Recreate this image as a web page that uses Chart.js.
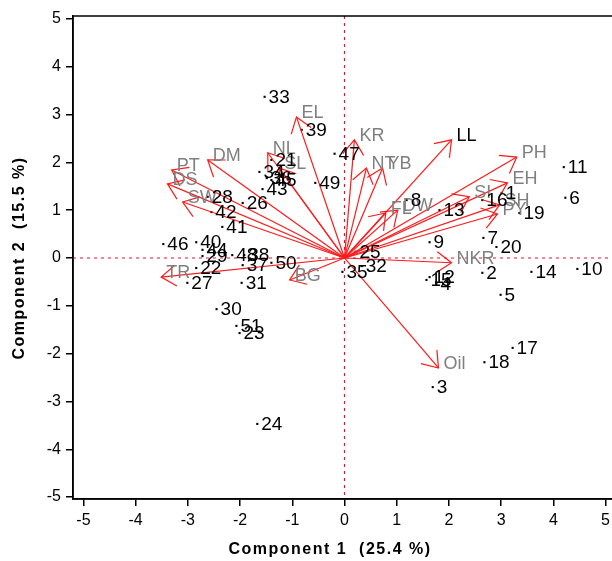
<!DOCTYPE html>
<html>
<head>
<meta charset="utf-8">
<script src="https://cdn.jsdelivr.net/npm/chart.js@4.4.0/dist/chart.umd.min.js"></script>
<style>
  html, body { margin: 0; padding: 0; background: #fff; overflow: hidden; }
</style>
</head>
<body>
<canvas id="biplot" width="640" height="561"></canvas>
<script>
// Genotype scores (PC1, PC2)
const pointIds = ['1','2','3','4','5','6','7','8','9','10','11','12','13','14','15','16','17','18','19','20',
  '21','22','23','24','25','26','27','28','29','30','31','32','33','34','35','36','37','38','39','40',
  '41','42','43','44','45','46','47','48','49','50','51'];
const pointX = [3.01, 2.64, 1.69, 1.76, 2.99, 4.23, 2.66, 1.19, 1.63, 4.46, 4.20, 1.63, 1.82, 3.58, 1.57, 2.64, 3.22, 2.68, 3.35, 2.91,
  -1.40, -2.84, -2.01, -1.67, 0.21, -1.95, -3.01, -2.62, -2.72, -2.45, -1.97, 0.33, -1.53, -1.63, -0.04, -1.49, -1.95, -1.92, -0.82, -2.84,
  -2.34, -2.55, -1.57, -2.72, -1.40, -3.47, -0.19, -2.15, -0.56, -1.40, -2.07];
const pointY = [1.36, -0.31, -2.70, -0.54, -0.77, 1.26, 0.42, 1.21, 0.33, -0.23, 1.90, -0.40, 1.00, -0.29, -0.46, 1.21, -1.88, -2.18, 0.94, 0.23,
  2.05, -0.21, -1.57, -3.47, 0.13, 1.15, -0.52, 1.28, 0.04, -1.07, -0.52, -0.17, 3.37, 1.80, -0.29, 1.67, -0.15, 0.06, 2.68, 0.33,
  0.65, 0.96, 1.44, 0.17, 1.63, 0.29, 2.18, 0.06, 1.57, -0.10, -1.42];

// Trait loadings (arrow tips)
const varNames = ['EL','KR','NT','YB','LL','PH','EH','SI','SH','PY','FL','DW','NKR','Oil','BG','TR','SW','DS','PT','DM','NL','SL'];
const varX = [-0.92, 0.19, 0.42, 0.73, 2.05, 3.30, 3.12, 2.39, 2.97, 2.93, 0.79, 1.02, 2.05, 1.80, -1.05, -3.51, -3.10, -3.39, -3.31, -2.62, -1.47, -1.25];
const varY = [2.95, 2.47, 1.88, 1.88, 2.47, 2.11, 1.57, 1.28, 1.11, 0.92, 0.94, 1.00, -0.10, -2.30, -0.46, -0.40, 1.17, 1.55, 1.84, 2.05, 2.20, 1.88];
const varColors = varNames.map(n => n === 'LL' ? '#000000' : '#7f7f7f');

const xTitle = 'Component 1  (25.4 %)';
const yTitle = 'Component 2  (15.5 %)';
const FONT = "Arial, 'Liberation Sans', sans-serif";

const datasets = [];
varNames.forEach((name, i) => {
  datasets.push({
    label: name,
    data: [{ x: 0, y: 0 }, { x: varX[i], y: varY[i] }],
    showLine: true,
    borderColor: '#ff1a1a',
    borderWidth: 1.2,
    pointRadius: 0,
    pointHoverRadius: 0
  });
});
datasets.push({
  label: 'genotypes',
  data: pointIds.map((id, i) => ({ x: pointX[i], y: pointY[i] })),
  pointStyle: 'rect',
  pointRadius: 1.5,
  backgroundColor: '#000',
  borderWidth: 0
});

const biplotPlugin = {
  id: 'biplot',
  beforeDatasetsDraw(chart) {
    const { ctx, chartArea: a, scales: { x, y } } = chart;
    ctx.save();
    ctx.strokeStyle = '#e8102a';
    ctx.lineWidth = 1.2;
    ctx.setLineDash([3, 4]);
    ctx.beginPath();
    ctx.moveTo(a.left, y.getPixelForValue(0));
    ctx.lineTo(a.right, y.getPixelForValue(0));
    ctx.moveTo(x.getPixelForValue(0), a.top);
    ctx.lineTo(x.getPixelForValue(0), a.bottom);
    ctx.stroke();
    ctx.restore();
  },
  afterDatasetsDraw(chart) {
    const { ctx, chartArea: a, scales: { x, y } } = chart;
    ctx.save();
    // arrow heads
    ctx.strokeStyle = '#ff1a1a';
    ctx.lineWidth = 1.2;
    const x0 = x.getPixelForValue(0), y0 = y.getPixelForValue(0);
    varNames.forEach((name, i) => {
      const tx = x.getPixelForValue(varX[i]), ty = y.getPixelForValue(varY[i]);
      const ang = Math.atan2(ty - y0, tx - x0);
      const len = 18, spread = 0.62;
      ctx.beginPath();
      ctx.moveTo(tx - len * Math.cos(ang - spread), ty - len * Math.sin(ang - spread));
      ctx.lineTo(tx, ty);
      ctx.lineTo(tx - len * Math.cos(ang + spread), ty - len * Math.sin(ang + spread));
      ctx.stroke();
    });
    // trait labels
    ctx.font = '18px ' + FONT;
    ctx.textBaseline = 'middle';
    ctx.textAlign = 'left';
    varNames.forEach((name, i) => {
      ctx.fillStyle = varColors[i];
      ctx.fillText(name, x.getPixelForValue(varX[i]) + 5, y.getPixelForValue(varY[i]) - 4);
    });
    // genotype labels
    ctx.font = '19px ' + FONT;
    ctx.fillStyle = '#000';
    pointIds.forEach((id, i) => {
      ctx.fillText(id, x.getPixelForValue(pointX[i]) + 4, y.getPixelForValue(pointY[i]) + 1);
    });
    // frame
    ctx.strokeStyle = '#000';
    ctx.lineWidth = 1.5;
    ctx.setLineDash([]);
    ctx.strokeRect(a.left, a.top, a.right - a.left, a.bottom - a.top);
    // axis titles
    ctx.font = 'bold 16px ' + FONT;
    ctx.letterSpacing = '1.5px';
    ctx.textAlign = 'center';
    ctx.fillText(xTitle, 330, 550);
    ctx.translate(20, 258);
    ctx.rotate(-Math.PI / 2);
    ctx.fillText(yTitle, 0, 0);
    ctx.restore();
  }
};

new Chart(document.getElementById('biplot'), {
  type: 'scatter',
  data: { datasets },
  options: {
    responsive: false,
    animation: false,
    layout: { padding: { top: 16, right: 24, left: 0, bottom: 0 } },
    plugins: { legend: { display: false }, tooltip: { enabled: false } },
    scales: {
      x: {
        type: 'linear',
        min: -5.2,
        max: 5.2,
        ticks: { stepSize: 1, includeBounds: false, color: '#000', padding: 5, font: { size: 16, family: FONT } },
        grid: { drawOnChartArea: false, drawTicks: true, tickLength: 7, color: '#000', lineWidth: 1.5 },
        border: { display: true, color: '#000', width: 1.5 },
        afterFit(scale) { scale.height = 62; }
      },
      y: {
        type: 'linear',
        min: -5.04,
        max: 5.06,
        ticks: { stepSize: 1, includeBounds: false, color: '#000', padding: 5, font: { size: 16, family: FONT } },
        grid: { drawOnChartArea: false, drawTicks: true, tickLength: 7, color: '#000', lineWidth: 1.5 },
        border: { display: true, color: '#000', width: 1.5 },
        afterFit(scale) { scale.width = 73; }
      }
    }
  },
  plugins: [biplotPlugin]
});
</script>
</body>
</html>
